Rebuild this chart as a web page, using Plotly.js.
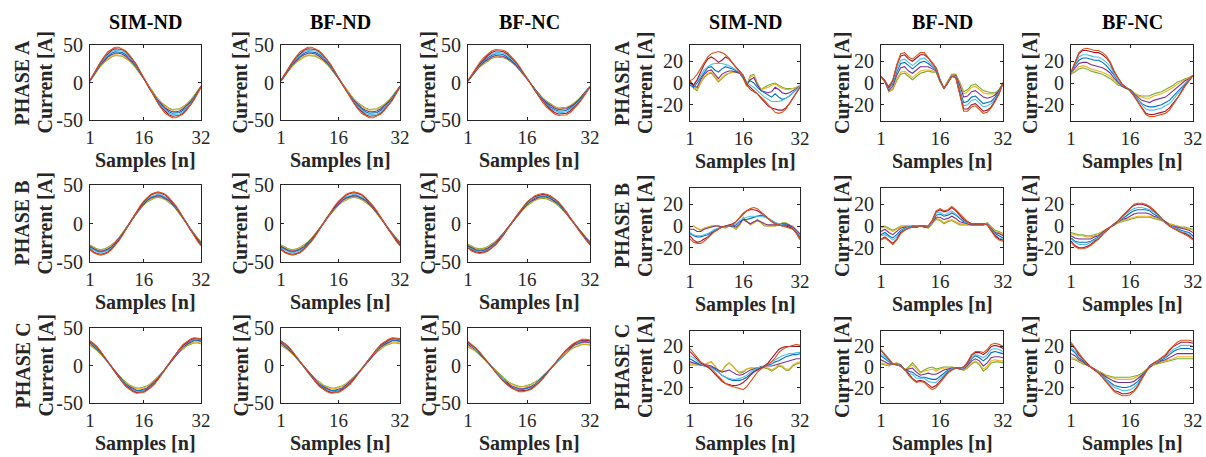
<!DOCTYPE html>
<html><head><meta charset="utf-8">
<script src="https://cdn.plot.ly/plotly-3.0.1.min.js"></script>
<style>html,body{margin:0;padding:0;background:#fff}#chart{width:1206px;height:457px}</style>
</head><body><div id="chart"></div>
<script>
// ---------------- DATA ----------------
const samples = [1,2,3,4,5,6,7,8,9,10,11,12,13,14,15,16,17,18,19,20,21,22,23,24,25,26,27,28,29,30,31,32];
const xTickVals = [1,16,32];
const xTickText = ['1','16','32'];
const yTickValsWide = [-50,0,50];
const yTickTextWide = ['-50','0','50'];
const yTickValsNarrow = [-20,0,20];
const yTickTextNarrow = ['-20','0','20'];
const columnTitles = ['SIM-ND','BF-ND','BF-NC','SIM-ND','BF-ND','BF-NC'];
const phaseLabels = ['PHASE A','PHASE B','PHASE C'];
const yAxisLabel = 'Current [A]';
const xAxisLabel = 'Samples [n]';
// series order in every panel: orange, dark red, light blue, blue, purple, yellow, green
const lineColors = ['#D95319','#A2142F','#4DBEEE','#0072BD','#7E2F8E','#EDB120','#77AC30'];

// ---- left block (currents), phase A
const leftSimA = [
 [3,12,20,28,35,41,44,47,47,45,42,37,31,24,15,6,-3,-12,-20,-28,-35,-41,-44,-47,-47,-45,-42,-37,-31,-24,-15,-6],
 [3,11,20,27,34,39,43,45,45,44,41,36,30,23,15,6,-3,-11,-20,-27,-34,-39,-43,-45,-45,-44,-41,-36,-30,-23,-15,-6],
 [3,11,19,26,32,37,41,43,43,42,39,34,29,22,14,6,-3,-11,-19,-26,-32,-37,-41,-43,-43,-42,-39,-34,-29,-22,-14,-6],
 [2,10,18,25,31,35,39,41,41,40,37,33,27,21,13,6,-2,-10,-18,-25,-31,-35,-39,-41,-41,-40,-37,-33,-27,-21,-13,-6],
 [2,10,17,24,29,34,37,39,39,38,35,31,26,20,13,5,-2,-10,-17,-24,-29,-34,-37,-39,-39,-38,-35,-31,-26,-20,-13,-5],
 [2,9,16,22,28,32,35,37,37,36,33,29,25,19,12,5,-2,-9,-16,-22,-28,-32,-35,-37,-37,-36,-33,-29,-25,-19,-12,-5],
 [2,9,16,22,27,31,34,36,36,35,32,29,24,18,12,5,-2,-9,-16,-22,-27,-31,-34,-36,-36,-35,-32,-29,-24,-18,-12,-5]
];
const leftBfndA = [
 [3,12,20,28,35,41,44,47,47,45,42,37,31,24,15,6,-3,-12,-20,-28,-35,-41,-44,-47,-47,-45,-42,-37,-31,-24,-15,-6],
 [3,11,20,27,34,39,43,45,45,44,41,36,30,23,15,6,-3,-11,-20,-27,-34,-39,-43,-45,-45,-44,-41,-36,-30,-23,-15,-6],
 [3,11,19,26,32,37,41,43,43,42,39,34,29,22,14,6,-3,-11,-19,-26,-32,-37,-41,-43,-43,-42,-39,-34,-29,-22,-14,-6],
 [2,10,18,25,31,35,39,41,41,40,37,33,27,21,13,6,-2,-10,-18,-25,-31,-35,-39,-41,-41,-40,-37,-33,-27,-21,-13,-6],
 [2,10,17,24,29,34,37,39,39,38,35,31,26,20,13,5,-2,-10,-17,-24,-29,-34,-37,-39,-39,-38,-35,-31,-26,-20,-13,-5],
 [2,9,16,22,28,32,35,37,37,36,33,29,25,19,12,5,-2,-9,-16,-22,-28,-32,-35,-37,-37,-36,-33,-29,-25,-19,-12,-5],
 [2,9,16,22,27,31,34,36,36,35,32,29,24,18,12,5,-2,-9,-16,-22,-27,-31,-34,-36,-36,-35,-32,-29,-24,-18,-12,-5]
];
const leftBfncA = [
 [3,11,19,27,33,38,42,44,44,43,40,35,29,22,14,6,-3,-11,-19,-27,-33,-38,-42,-44,-44,-43,-40,-35,-29,-22,-14,-6],
 [2,11,18,25,31,36,40,42,42,41,38,33,28,21,14,6,-2,-11,-18,-25,-31,-36,-40,-42,-42,-41,-38,-33,-28,-21,-14,-6],
 [2,10,17,24,30,35,38,40,40,39,36,32,27,20,13,5,-2,-10,-17,-24,-30,-35,-38,-40,-40,-39,-36,-32,-27,-20,-13,-5],
 [2,10,17,23,28,33,36,38,38,37,34,30,25,19,12,5,-2,-10,-17,-23,-28,-33,-36,-38,-38,-37,-34,-30,-25,-19,-12,-5],
 [2,9,16,22,27,31,34,36,36,35,32,29,24,18,12,5,-2,-9,-16,-22,-27,-31,-34,-36,-36,-35,-32,-29,-24,-18,-12,-5],
 [2,9,15,21,26,30,33,35,35,34,32,28,23,18,11,5,-2,-9,-15,-21,-26,-30,-33,-35,-35,-34,-32,-28,-23,-18,-11,-5],
 [2,9,15,21,25,29,32,34,34,33,31,27,23,17,11,5,-2,-9,-15,-21,-25,-29,-32,-34,-34,-33,-31,-27,-23,-17,-11,-5]
];
// ---- left block, phase B
const leftSimB = [
 [-34,-38,-40,-41,-40,-38,-34,-29,-23,-16,-8,0,8,16,23,29,34,38,40,41,40,38,34,29,23,16,8,0,-8,-16,-23,-29],
 [-33,-37,-39,-40,-39,-37,-33,-28,-22,-15,-8,0,8,15,22,28,33,37,39,40,39,37,33,28,22,15,8,0,-8,-15,-22,-28],
 [-32,-35,-37,-38,-37,-35,-32,-27,-21,-15,-7,0,7,15,21,27,32,35,37,38,37,35,32,27,21,15,7,0,-7,-15,-21,-27],
 [-31,-34,-36,-37,-36,-34,-31,-26,-21,-14,-7,0,7,14,21,26,31,34,36,37,36,34,31,26,21,14,7,0,-7,-14,-21,-26],
 [-30,-33,-35,-36,-35,-33,-30,-25,-20,-14,-7,0,7,14,20,25,30,33,35,36,35,33,30,25,20,14,7,0,-7,-14,-20,-25],
 [-29,-32,-34,-35,-34,-32,-29,-25,-19,-13,-7,0,7,13,19,25,29,32,34,35,34,32,29,25,19,13,7,0,-7,-13,-19,-25],
 [-28,-31,-33,-34,-33,-31,-28,-24,-19,-13,-7,0,7,13,19,24,28,31,33,34,33,31,28,24,19,13,7,0,-7,-13,-19,-24]
];
const leftBfndB = [
 [-34,-38,-40,-41,-40,-38,-34,-29,-23,-16,-8,0,8,16,23,29,34,38,40,41,40,38,34,29,23,16,8,0,-8,-16,-23,-29],
 [-33,-37,-39,-40,-39,-37,-33,-28,-22,-15,-8,0,8,15,22,28,33,37,39,40,39,37,33,28,22,15,8,0,-8,-15,-22,-28],
 [-32,-35,-37,-38,-37,-35,-32,-27,-21,-15,-7,0,7,15,21,27,32,35,37,38,37,35,32,27,21,15,7,0,-7,-15,-21,-27],
 [-31,-34,-36,-37,-36,-34,-31,-26,-21,-14,-7,0,7,14,21,26,31,34,36,37,36,34,31,26,21,14,7,0,-7,-14,-21,-26],
 [-30,-33,-35,-36,-35,-33,-30,-25,-20,-14,-7,0,7,14,20,25,30,33,35,36,35,33,30,25,20,14,7,0,-7,-14,-20,-25],
 [-29,-32,-34,-35,-34,-32,-29,-25,-19,-13,-7,0,7,13,19,25,29,32,34,35,34,32,29,25,19,13,7,0,-7,-13,-19,-25],
 [-28,-31,-33,-34,-33,-31,-28,-24,-19,-13,-7,0,7,13,19,24,28,31,33,34,33,31,28,24,19,13,7,0,-7,-13,-19,-24]
];
const leftBfncB = [
 [-32,-36,-38,-39,-38,-36,-32,-28,-22,-15,-8,0,8,15,22,28,32,36,38,39,38,36,32,28,22,15,8,0,-8,-15,-22,-28],
 [-32,-35,-37,-38,-37,-35,-32,-27,-21,-15,-7,0,7,15,21,27,32,35,37,38,37,35,32,27,21,15,7,0,-7,-15,-21,-27],
 [-31,-34,-36,-37,-36,-34,-31,-26,-21,-14,-7,0,7,14,21,26,31,34,36,37,36,34,31,26,21,14,7,0,-7,-14,-21,-26],
 [-30,-33,-35,-36,-35,-33,-30,-25,-20,-14,-7,0,7,14,20,25,30,33,35,36,35,33,30,25,20,14,7,0,-7,-14,-20,-25],
 [-29,-32,-34,-35,-34,-32,-29,-25,-19,-13,-7,0,7,13,19,25,29,32,34,35,34,32,29,25,19,13,7,0,-7,-13,-19,-25],
 [-28,-31,-33,-34,-33,-31,-28,-24,-19,-13,-7,0,7,13,19,24,28,31,33,34,33,31,28,24,19,13,7,0,-7,-13,-19,-24],
 [-27,-30,-32,-33,-32,-30,-27,-23,-18,-13,-6,0,6,13,18,23,27,30,32,33,32,30,27,23,18,13,6,0,-6,-13,-18,-23]
];
// ---- left block, phase C
const leftSimC = [
 [33,29,25,19,12,5,-2,-9,-16,-22,-28,-32,-35,-37,-37,-36,-33,-29,-25,-19,-12,-5,2,9,16,22,28,32,35,37,37,36],
 [32,29,24,18,12,5,-2,-9,-16,-22,-27,-31,-34,-36,-36,-35,-32,-29,-24,-18,-12,-5,2,9,16,22,27,31,34,36,36,35],
 [32,28,23,18,11,5,-2,-9,-15,-21,-26,-30,-33,-35,-35,-34,-32,-28,-23,-18,-11,-5,2,9,15,21,26,30,33,35,35,34],
 [31,27,23,17,11,5,-2,-9,-15,-21,-25,-29,-32,-34,-34,-33,-31,-27,-23,-17,-11,-5,2,9,15,21,25,29,32,34,34,33],
 [30,26,22,17,11,5,-2,-8,-14,-20,-25,-28,-31,-33,-33,-32,-30,-26,-22,-17,-11,-5,2,8,14,20,25,28,31,33,33,32],
 [28,25,21,16,10,4,-2,-8,-14,-19,-23,-27,-29,-31,-31,-30,-28,-25,-21,-16,-10,-4,2,8,14,19,23,27,29,31,31,30],
 [27,24,20,15,10,4,-2,-8,-13,-18,-22,-26,-28,-30,-30,-29,-27,-24,-20,-15,-10,-4,2,8,13,18,22,26,28,30,30,29]
];
const leftBfndC = [
 [33,29,25,19,12,5,-2,-9,-16,-22,-28,-32,-35,-37,-37,-36,-33,-29,-25,-19,-12,-5,2,9,16,22,28,32,35,37,37,36],
 [32,29,24,18,12,5,-2,-9,-16,-22,-27,-31,-34,-36,-36,-35,-32,-29,-24,-18,-12,-5,2,9,16,22,27,31,34,36,36,35],
 [32,28,23,18,11,5,-2,-9,-15,-21,-26,-30,-33,-35,-35,-34,-32,-28,-23,-18,-11,-5,2,9,15,21,26,30,33,35,35,34],
 [31,27,23,17,11,5,-2,-9,-15,-21,-25,-29,-32,-34,-34,-33,-31,-27,-23,-17,-11,-5,2,9,15,21,25,29,32,34,34,33],
 [30,26,22,17,11,5,-2,-8,-14,-20,-25,-28,-31,-33,-33,-32,-30,-26,-22,-17,-11,-5,2,8,14,20,25,28,31,33,33,32],
 [28,25,21,16,10,4,-2,-8,-14,-19,-23,-27,-29,-31,-31,-30,-28,-25,-21,-16,-10,-4,2,8,14,19,23,27,29,31,31,30],
 [27,24,20,15,10,4,-2,-8,-13,-18,-22,-26,-28,-30,-30,-29,-27,-24,-20,-15,-10,-4,2,8,13,18,22,26,28,30,30,29]
];
const leftBfncC = [
 [32,28,23,18,11,5,-2,-9,-15,-21,-26,-30,-33,-35,-35,-34,-32,-28,-23,-18,-11,-5,2,9,15,21,26,30,33,35,35,34],
 [31,27,23,17,11,5,-2,-9,-15,-21,-25,-29,-32,-34,-34,-33,-31,-27,-23,-17,-11,-5,2,9,15,21,25,29,32,34,34,33],
 [30,26,22,17,11,5,-2,-8,-14,-20,-25,-28,-31,-33,-33,-32,-30,-26,-22,-17,-11,-5,2,8,14,20,25,28,31,33,33,32],
 [29,26,21,16,10,4,-2,-8,-14,-19,-24,-28,-30,-32,-32,-31,-29,-26,-21,-16,-10,-4,2,8,14,19,24,28,30,32,32,31],
 [28,25,21,16,10,4,-2,-8,-14,-19,-23,-27,-29,-31,-31,-30,-28,-25,-21,-16,-10,-4,2,8,14,19,23,27,29,31,31,30],
 [26,23,19,15,9,4,-2,-7,-13,-18,-22,-25,-27,-29,-29,-28,-26,-23,-19,-15,-9,-4,2,7,13,18,22,25,27,29,29,28],
 [25,22,19,14,9,4,-2,-7,-12,-17,-21,-24,-26,-28,-28,-27,-25,-22,-19,-14,-9,-4,2,7,12,17,21,24,26,28,28,27]
];
// ---- right block (deviations), phase A
const rightSimA = [
 [2,4,8,13,19,24,27,28,29,28,26,23,18,14,11,7,-2,-6,-8,-10,-13,-16,-20,-24,-27,-28,-27,-24,-19,-14,-9,-4],
 [0,-2,3,10,17,22,24,22,19,21,24,22,18,14,11,7,-1,-4,-7,-10,-14,-18,-21,-23,-24,-25,-25,-23,-19,-14,-9,-4],
 [-1,-2,2,7,12,15,17,18,18,18,17,16,14,12,10,6,1,-2,-4,-7,-10,-13,-15,-17,-17,-17,-16,-14,-12,-9,-6,-3],
 [-2,-4,0,5,10,14,15,12,10,13,15,14,13,11,10,6,0,2,0,-4,-7,-9,-11,-13,-10,-13,-15,-14,-12,-9,-6,-3],
 [2,-3,-4,3,8,11,12,8,4,8,10,11,11,10,9,5,-2,3,5,-2,-7,-8,-9,-8,-4,-6,-9,-10,-9,-7,-5,-3],
 [3,-4,-6,1,6,9,10,6,2,5,8,9,10,10,9,5,-3,6,7,-1,-6,-5,-4,-2,-1,-3,-5,-6,-6,-5,-4,-2],
 [2,-5,-7,0,5,8,9,5,1,4,7,9,10,10,9,4,-3,7,8,0,-6,-4,-2,-1,0,-2,-4,-5,-5,-5,-4,-2]
];
const rightBfndA = [
 [6,2,-3,3,17,27,28,24,22,25,28,28,24,19,14,3,-5,0,6,5,-10,-26,-26,-22,-21,-25,-28,-27,-23,-17,-10,0],
 [6,2,-4,2,16,25,26,22,20,23,26,26,23,18,14,3,-5,0,6,5,-9,-24,-24,-20,-19,-23,-26,-25,-22,-16,-10,0],
 [6,2,-5,0,13,21,22,19,16,19,22,23,20,16,13,2,-5,1,7,6,-7,-21,-20,-16,-15,-19,-22,-21,-19,-15,-9,0],
 [6,2,-5,-1,10,18,19,16,13,16,19,20,18,15,12,2,-5,1,7,6,-5,-18,-17,-13,-12,-16,-19,-18,-17,-13,-8,0],
 [6,1,-7,-3,7,14,15,11,9,12,15,15,15,13,11,2,-5,1,7,7,-2,-13,-12,-8,-7,-10,-13,-14,-13,-11,-7,0],
 [6,1,-8,-5,4,10,11,8,5,8,11,12,12,11,10,1,-5,2,8,8,0,-10,-8,-4,-3,-6,-9,-10,-10,-10,-6,0],
 [6,1,-8,-6,2,8,9,6,3,6,9,10,11,10,10,1,-5,2,8,8,1,-8,-6,-2,-1,-4,-7,-8,-9,-9,-6,0]
];
const rightBfncA = [
 [10,20,28,31,32,31,30,30,28,25,19,11,4,-1,-4,-7,-12,-18,-24,-29,-31,-31,-30,-29,-28,-25,-20,-15,-9,-3,2,7],
 [10,19,27,30,30,29,28,28,26,23,18,10,4,-1,-4,-7,-12,-17,-23,-28,-29,-29,-28,-27,-26,-23,-19,-14,-8,-2,2,7],
 [9,17,24,26,26,25,24,24,22,19,15,8,2,-2,-4,-7,-11,-16,-20,-24,-25,-25,-24,-23,-21,-19,-15,-10,-6,-1,3,7],
 [9,16,21,23,23,22,21,21,19,16,12,7,1,-2,-4,-7,-11,-15,-19,-21,-22,-22,-21,-20,-18,-16,-12,-8,-4,0,3,7],
 [9,13,18,19,19,17,16,15,14,12,9,4,0,-3,-5,-6,-10,-13,-16,-17,-18,-16,-15,-14,-13,-10,-7,-4,-1,2,4,7],
 [8,11,15,16,15,13,12,11,10,8,6,2,-1,-3,-5,-6,-9,-12,-13,-14,-14,-12,-11,-10,-8,-6,-4,-1,1,3,5,7],
 [8,10,13,14,13,11,10,9,8,6,4,1,-2,-3,-5,-6,-9,-11,-12,-12,-12,-10,-9,-8,-6,-4,-2,1,2,4,5,7]
];
// ---- right block, phase B
const rightSimB = [
 [-12,-15,-16,-16,-14,-11,-8,-5,-3,-1,0,0,1,4,8,12,14,16,17,16,13,10,7,4,2,1,0,-1,-2,-3,-7,-13],
 [-9,-13,-15,-14,-12,-10,-7,-5,-3,-1,0,1,2,4,8,11,14,15,15,14,12,10,7,4,2,1,0,0,-1,-3,-6,-12],
 [-6,-8,-9,-9,-8,-7,-5,-3,-2,-1,-1,0,1,2,5,7,8,9,9,9,9,8,7,5,3,2,1,0,-1,-2,-5,-9],
 [-7,-9,-10,-10,-9,-8,-6,-4,-2,-1,0,0,0,1,4,6,6,7,8,9,10,9,7,5,3,2,1,1,0,-2,-5,-10],
 [-3,-3,-5,-5,-3,-2,-1,0,0,-1,-1,0,0,-1,2,6,4,2,4,5,4,2,1,1,1,1,2,2,1,-1,-4,-8],
 [-1,0,-2,-4,-2,-1,0,0,0,-1,-1,0,-1,-2,1,7,4,1,3,5,3,1,0,0,0,1,2,3,1,0,-4,-7],
 [-1,0,-2,-4,-2,-1,0,0,0,-1,-2,0,-1,-3,1,8,4,1,3,6,3,0,0,0,0,1,3,3,1,-1,-4,-7]
];
const rightBfndB = [
 [-13,-11,-14,-17,-13,-7,-4,-2,-1,-1,0,0,0,5,14,16,14,15,18,15,11,7,4,2,2,2,2,1,-4,-10,-13,-14],
 [-12,-10,-13,-16,-12,-6,-4,-2,-1,-1,0,0,0,5,13,15,13,14,17,14,10,6,4,2,2,2,2,1,-4,-9,-12,-13],
 [-9,-8,-10,-13,-10,-5,-3,-1,-1,-1,0,0,-1,4,12,13,10,12,14,11,8,5,3,2,2,2,2,2,-3,-8,-11,-12],
 [-8,-6,-9,-11,-8,-4,-2,-1,-1,-1,0,0,-1,4,10,11,9,10,12,10,7,4,3,2,2,2,2,2,-3,-7,-9,-11],
 [-5,-3,-6,-8,-5,-2,-1,-1,0,0,0,-1,-1,3,8,8,6,7,9,7,4,3,2,1,1,1,1,2,-2,-6,-7,-9],
 [-2,-1,-3,-5,-3,-1,0,0,0,0,0,-1,-2,2,7,6,3,5,6,4,2,2,1,1,1,1,1,3,-1,-5,-6,-8],
 [-1,0,-2,-4,-2,0,0,0,0,0,0,-1,-2,2,6,5,2,4,5,3,1,1,1,1,1,1,1,3,-1,-4,-5,-7]
];
const rightBfncB = [
 [-15,-19,-21,-21,-20,-18,-15,-12,-8,-4,-1,2,5,9,13,17,20,21,21,20,18,15,11,7,3,0,-2,-4,-6,-8,-10,-13],
 [-14,-18,-20,-20,-19,-17,-14,-12,-8,-4,-1,2,5,9,12,16,19,20,20,19,17,14,11,7,3,0,-2,-4,-6,-7,-9,-12],
 [-12,-15,-17,-17,-17,-15,-13,-11,-7,-4,-1,2,4,8,11,14,16,17,17,16,15,13,10,6,3,1,-1,-3,-5,-6,-8,-10],
 [-11,-14,-15,-15,-15,-14,-12,-10,-7,-4,-1,2,4,7,9,12,14,15,15,15,14,11,9,6,3,1,-1,-2,-4,-5,-6,-9],
 [-9,-11,-12,-12,-12,-12,-10,-9,-6,-3,-1,1,4,6,7,9,11,12,12,12,11,9,8,6,4,1,0,-1,-2,-3,-4,-6],
 [-7,-8,-9,-9,-10,-10,-9,-8,-5,-3,-1,1,3,5,6,7,8,9,9,9,9,8,7,5,4,2,1,0,-2,-2,-3,-4],
 [-6,-7,-8,-8,-9,-9,-8,-7,-5,-3,-1,1,3,4,5,6,7,8,8,8,8,7,6,5,4,2,1,0,-1,-1,-2,-3]
];
// ---- right block, phase C
const rightSimC = [
 [18,14,9,5,3,1,-2,-5,-9,-13,-16,-18,-19,-20,-21,-22,-19,-14,-9,-5,-2,0,3,5,9,14,17,19,20,21,22,21],
 [15,11,7,4,2,0,-3,-7,-11,-14,-16,-17,-18,-18,-17,-15,-12,-8,-5,-3,-1,1,4,8,13,17,19,20,20,20,20,20],
 [11,9,6,3,1,0,-1,-3,-5,-8,-10,-11,-12,-12,-11,-10,-8,-5,-3,-1,0,1,3,5,7,9,11,12,13,13,14,14],
 [8,6,4,2,1,0,0,-2,-5,-8,-10,-12,-13,-13,-13,-12,-10,-7,-4,-2,0,1,2,3,5,6,8,10,11,12,12,13],
 [5,4,3,2,2,2,1,-1,-3,-5,-4,-3,-5,-7,-8,-7,-5,-3,-2,-1,0,1,1,1,2,3,4,5,6,7,8,8],
 [3,3,3,2,2,4,5,1,-3,-4,1,4,1,-3,-5,-4,-2,-1,-1,-1,0,0,-1,-3,-1,2,1,-2,-2,2,4,5],
 [2,2,2,2,2,4,5,1,-4,-4,1,4,1,-3,-6,-5,-2,-1,-1,-1,0,-1,-2,-4,-2,1,0,-3,-3,1,3,4]
];
const rightBfndC = [
 [17,13,8,3,2,1,-2,-8,-12,-15,-14,-15,-19,-22,-20,-15,-11,-6,-3,-1,-1,0,5,12,15,15,14,17,22,23,22,20],
 [16,12,7,3,2,1,-2,-7,-11,-14,-13,-14,-17,-20,-18,-14,-10,-5,-3,-1,-1,0,4,11,14,14,12,15,20,21,20,18],
 [13,10,6,3,3,1,-2,-6,-7,-11,-11,-11,-14,-15,-15,-11,-8,-4,-2,-1,-1,-1,3,9,12,11,9,12,17,18,17,15],
 [11,8,5,3,3,1,-2,-4,-5,-8,-10,-10,-11,-12,-12,-9,-6,-3,-2,-1,-1,-1,2,8,11,9,6,9,14,15,14,13],
 [7,5,3,3,3,2,-3,-2,-1,-5,-8,-7,-6,-7,-7,-5,-3,-2,-1,-1,-2,-2,1,6,8,6,1,4,9,10,10,9],
 [4,3,2,3,4,2,-3,-1,2,-2,-6,-4,-3,-2,-4,-2,-1,-1,0,-1,-2,-3,-1,4,6,3,-2,1,6,7,6,6],
 [3,2,1,3,4,2,-3,0,4,0,-5,-3,-1,0,-2,-1,0,0,0,-1,-2,-3,-1,3,5,2,-4,-1,4,5,5,4]
];
const rightBfncC = [
 [24,19,13,8,3,0,-3,-6,-10,-15,-20,-24,-26,-28,-28,-27,-24,-19,-12,-5,1,4,6,9,12,17,21,24,26,26,26,25],
 [22,18,12,8,3,0,-3,-6,-10,-14,-19,-23,-24,-26,-26,-25,-23,-18,-11,-5,1,4,6,9,11,16,20,22,24,24,24,23],
 [19,15,11,7,3,0,-3,-5,-9,-13,-17,-20,-21,-23,-23,-22,-20,-16,-10,-4,1,3,5,8,10,14,17,19,21,21,21,20],
 [17,14,9,6,3,0,-3,-5,-8,-12,-15,-18,-19,-20,-20,-19,-17,-14,-9,-4,1,3,5,7,9,12,15,17,18,18,18,17],
 [13,11,7,5,2,0,-2,-5,-7,-10,-12,-14,-15,-15,-15,-15,-14,-11,-8,-4,0,3,4,6,7,9,11,13,13,13,13,13],
 [10,8,6,4,2,0,-2,-4,-6,-9,-10,-11,-12,-12,-12,-12,-11,-9,-7,-3,0,2,3,5,6,7,8,10,10,10,10,10],
 [8,7,5,3,2,0,-2,-4,-6,-8,-9,-10,-10,-10,-10,-10,-9,-8,-6,-3,0,2,3,4,5,6,7,8,8,8,8,8]
];

// ---------------- LAYOUT ----------------
const W = 1206, H = 457;
const panelData = [
  [leftSimA, leftBfndA, leftBfncA, rightSimA, rightBfndA, rightBfncA],
  [leftSimB, leftBfndB, leftBfncB, rightSimB, rightBfndB, rightBfncB],
  [leftSimC, leftBfndC, leftBfncC, rightSimC, rightBfndC, rightBfncC]
];
const colPx = [[90,201],[281,400],[468,590],[690,800],[881,1003],[1071,1193]];
const rowPxLeft = [[45,120],[185,262],[328,403]];
const rowPxRight = [[45,121],[188,264],[331,403]];
const ylabOffset = [45,41,40,45,39,41];
const FONT = 'Liberation Serif, Times New Roman, serif';
const INK = '#262626';

const traces = [];
const layout = {
  width: W, height: H, margin: {l:0, r:0, t:0, b:0},
  paper_bgcolor: '#fff', plot_bgcolor: '#fff', showlegend: false,
  font: {family: FONT, size: 20, color: INK},
  annotations: []
};

for (let r = 0; r < 3; r++) {
  for (let c = 0; c < 6; c++) {
    const k = r * 6 + c + 1;
    const left = c < 3;
    const [x0, x1] = colPx[c];
    const [y0, y1] = (left ? rowPxLeft : rowPxRight)[r];
    const xa = 'xaxis' + (k === 1 ? '' : k), ya = 'yaxis' + (k === 1 ? '' : k);
    const xr = 'x' + (k === 1 ? '' : k), yr = 'y' + (k === 1 ? '' : k);
    const common = {
      showline: true, linecolor: INK, linewidth: 1, mirror: 'allticks',
      ticks: 'inside', ticklen: 3, tickwidth: 1, tickcolor: INK,
      showgrid: false, zeroline: false, fixedrange: true,
      tickfont: {family: FONT, size: 20, color: INK}
    };
    layout[xa] = Object.assign({}, common, {
      domain: [x0 / W, x1 / W], anchor: yr, range: [1, 32],
      tickmode: 'array', tickvals: xTickVals, ticktext: xTickText, ticklabelstandoff: 0,
      tickfont: {family: FONT, size: 19, color: INK}
    });
    layout[ya] = Object.assign({}, common, {
      domain: [1 - y1 / H, 1 - y0 / H], anchor: xr,
      range: left ? [-50, 50] : [-35, 35],
      tickmode: 'array',
      tickvals: left ? yTickValsWide : yTickValsNarrow,
      ticktext: left ? yTickTextWide : yTickTextNarrow,
      ticklabelstandoff: 2
    });
    const series = panelData[r][c];
    for (let s = series.length - 1; s >= 0; s--) {
      traces.push({
        type: 'scatter', mode: 'lines', x: samples, y: series[s],
        xaxis: xr, yaxis: yr, line: {color: lineColors[s], width: 1.1},
        hoverinfo: 'skip'
      });
    }
    const cx = (x0 + x1) / 2, cy = (y0 + y1) / 2;
    layout.annotations.push({
      xref: 'paper', yref: 'paper', x: (x0 - ylabOffset[c]) / W, y: 1 - cy / H,
      text: '<b>' + yAxisLabel + '</b>', textangle: -90, showarrow: false,
      xanchor: 'center', yanchor: 'middle', borderpad: 0,
      font: {family: FONT, size: 20, color: INK}
    });
    layout.annotations.push({
      xref: 'paper', yref: 'paper', x: cx / W, y: 1 - (y1 + 28) / H,
      text: '<b>' + xAxisLabel + '</b>', showarrow: false,
      xanchor: 'center', yanchor: 'top', borderpad: 0,
      font: {family: FONT, size: 20, color: INK}
    });
    if (c === 0 || c === 3) {
      layout.annotations.push({
        xref: 'paper', yref: 'paper', x: (x0 - 68) / W, y: 1 - cy / H,
        text: '<b>' + phaseLabels[r] + '</b>', textangle: -90, showarrow: false,
        xanchor: 'center', yanchor: 'middle', borderpad: 0,
        font: {family: FONT, size: 20, color: INK}
      });
    }
    if (r === 0) {
      layout.annotations.push({
        xref: 'paper', yref: 'paper', x: cx / W, y: 1 - 22 / H,
        text: '<b>' + columnTitles[c] + '</b>', showarrow: false,
        xanchor: 'center', yanchor: 'middle', borderpad: 0,
        font: {family: FONT, size: 20, color: '#000'}
      });
    }
  }
}

Plotly.newPlot('chart', traces, layout, {staticPlot: true, displayModeBar: false});
</script>
</body></html>
